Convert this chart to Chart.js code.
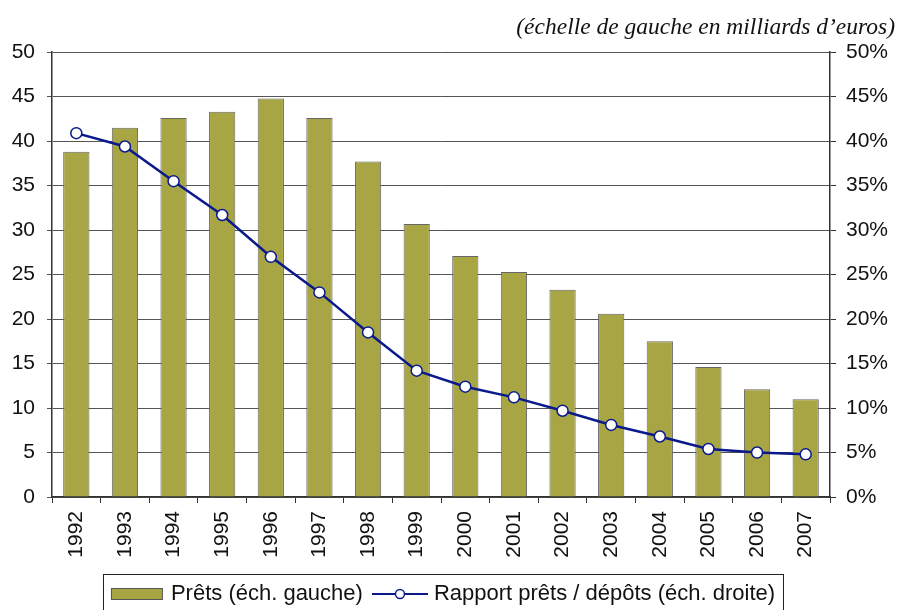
<!DOCTYPE html>
<html>
<head>
<meta charset="utf-8">
<script src="https://cdn.jsdelivr.net/npm/chart.js@4.4.1/dist/chart.umd.min.js"></script>
<style>body{margin:0;background:#fff}</style>
</head>
<body>
<div style="width:899px;height:610px"><canvas id="chart"></canvas></div>
<script>
const years = ["1992","1993","1994","1995","1996","1997","1998","1999","2000","2001","2002","2003","2004","2005","2006","2007"];
// prets, milliards d'euros (left scale)
const prets = [38.8, 41.5, 42.6, 43.3, 44.8, 42.6, 37.7, 30.7, 27.1, 25.3, 23.3, 20.6, 17.5, 14.6, 12.1, 11.0];
// rapport prets / depots, % (right scale)
const rapport = [40.9, 39.4, 35.5, 31.7, 27.0, 23.0, 18.5, 14.2, 12.4, 11.2, 9.7, 8.1, 6.8, 5.4, 5.0, 4.8];
const labelPrets = "Prêts (éch. gauche)";
const labelRapport = "Rapport prêts / dépôts (éch. droite)";
const note = "(échelle de gauche en milliards d’euros)";

const barColor = "#A8A644";
const lineColor = "#0A1A8C";
const gridColor = "#555555";
const swatchW = 56;

// legend swatches are a bit wider than the box, drawn centred on it
function barSwatch(){
	let c = document.createElement("canvas");
	c.width = 66; c.height = 14;
	let g = c.getContext("2d");
	g.fillStyle = barColor;
	g.fillRect(12.5, 1.5, 51, 11);
	g.strokeStyle = "#555";
	g.lineWidth = 1;
	g.strokeRect(12.5, 1.5, 51, 11);
	return c;
}
function lineSwatch(){
	let c = document.createElement("canvas");
	c.width = 66; c.height = 14;
	let g = c.getContext("2d");
	g.strokeStyle = lineColor;
	g.lineWidth = 2;
	g.beginPath(); g.moveTo(10, 7); g.lineTo(66, 7); g.stroke();
	g.fillStyle = "#fff";
	g.lineWidth = 1.5;
	g.beginPath(); g.arc(38, 7, 4.5, 0, Math.PI * 2); g.fill(); g.stroke();
	return c;
}

const legendBox = {
	id: "legendBox",
	afterDraw(chart){
		let boxes = chart.legend.legendHitBoxes;
		if(!boxes || !boxes.length)return;
		let first = boxes[0], last = boxes[boxes.length - 1];
		let ctx = chart.ctx;
		ctx.save();
		ctx.strokeStyle = "#222";
		ctx.lineWidth = 1;
		ctx.strokeRect(Math.round(first.left - 1) + 0.5, Math.round(first.top - 9) + 0.5,
			Math.round(last.left + last.width - first.left + 9), 60);
		ctx.restore();
	}
};

Chart.defaults.font.family = "'Liberation Sans', Arial, sans-serif";
Chart.defaults.font.size = 21;
Chart.defaults.color = "#111";

let ctx = document.getElementById("chart").getContext("2d");
let chart = new Chart(ctx, {
	data: {
		labels: years,
		datasets: [
			{
				type: "line",
				label: labelRapport,
				data: rapport,
				yAxisID: "y2",
				borderColor: lineColor,
				backgroundColor: "#fff",
				borderWidth: 2.5,
				pointRadius: 5.5,
				pointBorderWidth: 1.5,
				pointBorderColor: lineColor,
				pointBackgroundColor: "#fff",
				tension: 0,
				order: 0
			},
			{
				type: "bar",
				label: labelPrets,
				data: prets,
				yAxisID: "y",
				backgroundColor: barColor,
				borderColor: "#666",
				borderWidth: 1,
				barPercentage: 0.54,
				categoryPercentage: 1,
				order: 1
			}
		]
	},
	options: {
		responsive: true,
		maintainAspectRatio: false,
		animation: false,
		layout: {padding: {left: -16, right: 4, top: 0, bottom: -5}},
		plugins: {
			tooltip: {enabled: false},
			title: {
				display: true,
				text: note,
				align: "end",
				color: "#111",
				font: {family: "'Liberation Serif', 'Times New Roman', serif", size: 23.5, style: "italic", weight: "normal"},
				padding: {top: 14, bottom: 10}
			},
			legend: {
				position: "bottom",
				reverse: true,
				labels: {
					usePointStyle: true,
					pointStyleWidth: swatchW,
					padding: 4,
					color: "#111",
					font: {size: 22},
					generateLabels: function(chart){
						let items = Chart.defaults.plugins.legend.labels.generateLabels(chart);
						items.forEach(function(it){
							it.pointStyle = it.datasetIndex === 1 ? barSwatch() : lineSwatch();
						});
						return items;
					}
				}
			}
		},
		scales: {
			x: {
				offset: true,
				grid: {display: true, drawOnChartArea: false, drawTicks: true, tickLength: 6, color: "#333", offset: true},
				border: {color: "#333", width: 1.5},
				ticks: {minRotation: 90, maxRotation: 90, padding: 8, color: "#111"},
				afterFit: function(s){ s.height = 82; }
			},
			y: {
				position: "left",
				min: 0, max: 50,
				grid: {color: gridColor, lineWidth: 1, tickLength: 5},
				border: {color: "#333", width: 1.5},
				ticks: {stepSize: 5, padding: 12, color: "#111"},
				afterFit: function(s){ s.width = 68; }
			},
			y2: {
				position: "right",
				min: 0, max: 50,
				grid: {drawOnChartArea: false, color: "#333", tickLength: 6},
				border: {color: "#333", width: 1.5},
				ticks: {stepSize: 5, padding: 10, color: "#111", callback: function(v){ return v + "%"; }},
				afterFit: function(s){ s.width = 65; }
			}
		}
	},
	plugins: [legendBox]
});
</script>
</body>
</html>
